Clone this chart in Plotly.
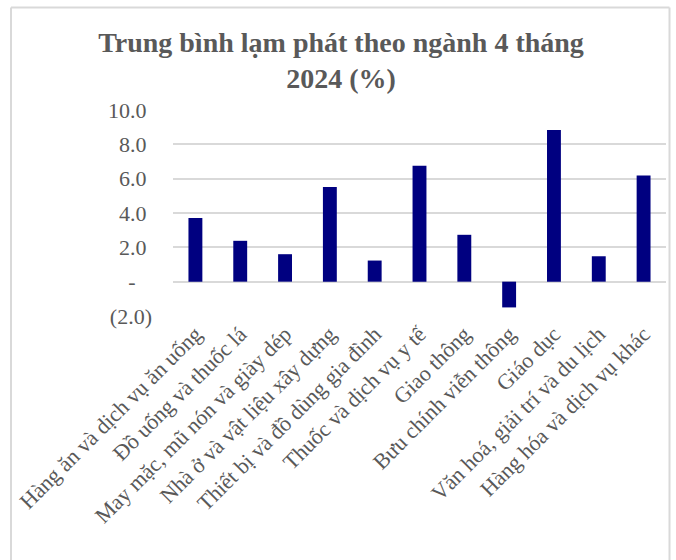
import plotly.graph_objects as go

categories = [
    "Hàng ăn và dịch vụ ăn uống",
    "Đồ uống và thuốc lá",
    "May mặc, mũ nón và giày dép",
    "Nhà ở và vật liệu xây dựng",
    "Thiết bị và đồ dùng gia đình",
    "Thuốc và dịch vụ y tế",
    "Giao thông",
    "Bưu chính viễn thông",
    "Giáo dục",
    "Văn hoá, giải trí và du lịch",
    "Hàng hóa và dịch vụ khác",
]
values = [3.71, 2.38, 1.60, 5.52, 1.23, 6.75, 2.73, -1.50, 8.83, 1.48, 6.18]

y_tickvals = [-2, 0, 2, 4, 6, 8, 10]
y_ticktext = ["(2.0)", "-\u00a0\u00a0\u00a0", "2.0\u00a0", "4.0\u00a0", "6.0\u00a0", "8.0\u00a0", "10.0\u00a0"]

title_text = "Trung bình lạm phát theo ngành 4 tháng<br>2024 (%)"

W, H = 676, 560
ml, mr, mt, mb = 173, 10, 110, 244
pw = W - ml - mr
ph = H - mt - mb

fig = go.Figure(
    go.Bar(
        x=categories,
        y=values,
        marker=dict(color="#000080", line=dict(width=0)),
    )
)

serif = "Liberation Serif"
txtcol = "#595959"

fig.update_layout(
    width=W,
    height=H,
    margin=dict(l=ml, r=mr, t=mt, b=mb, autoexpand=False),
    paper_bgcolor="white",
    plot_bgcolor="white",
    bargap=0.69,
    showlegend=False,
    title=dict(
        text="<b>" + title_text + "</b>",
        x=341 / W,
        xanchor="center",
        y=1 - 52 / H,
        yanchor="top",
        font=dict(family=serif, size=28, color=txtcol),
    ),
    xaxis=dict(
        tickangle=-45,
        tickfont=dict(family=serif, size=22, color=txtcol),
        showgrid=False,
        showline=False,
        ticks="",
        automargin=False,
    ),
    yaxis=dict(
        range=[-2, 10],
        tickvals=y_tickvals,
        ticktext=y_ticktext,
        tickfont=dict(family=serif, size=22, color=txtcol),
        showgrid=True,
        gridcolor="#d9d9d9",
        gridwidth=1.5,
        zeroline=True,
        zerolinecolor="#d9d9d9",
        zerolinewidth=1.5,
        showline=False,
        ticks="",
        ticklabelstandoff=20,
        automargin=False,
    ),
)

# chart border (light gray frame)
x0 = (11 - ml) / pw
x1 = (669.5 - ml) / pw
y_top = 1 + (mt - 7.5) / ph
y_bot = -(mb + 20) / ph
fig.add_shape(type="line", xref="paper", yref="paper", x0=x0, x1=x0, y0=y_bot, y1=y_top,
              line=dict(color="#d9d9d9", width=2))
fig.add_shape(type="line", xref="paper", yref="paper", x0=x1, x1=x1, y0=y_bot, y1=y_top,
              line=dict(color="#d9d9d9", width=2))
fig.add_shape(type="line", xref="paper", yref="paper", x0=x0, x1=x1, y0=y_top, y1=y_top,
              line=dict(color="#d9d9d9", width=2))

fig.write_html("out.html")
